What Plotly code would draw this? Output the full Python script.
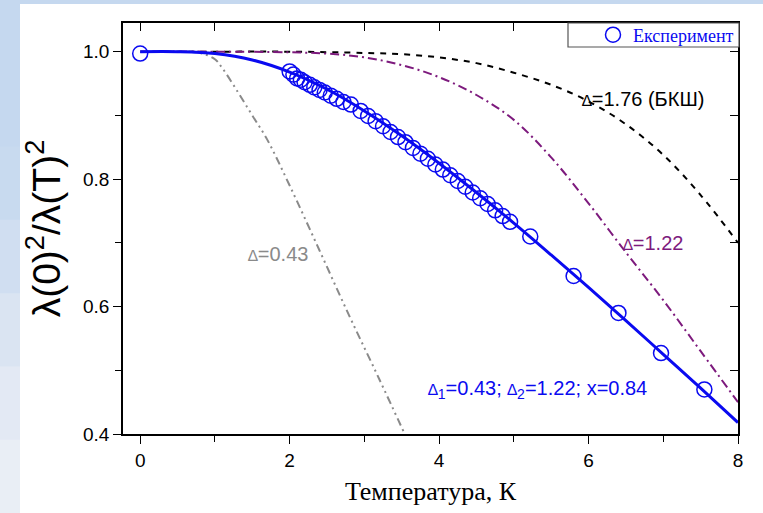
import plotly.graph_objects as go

# Experimental superfluid density
temp_exp = [0.0, 2.0, 2.05, 2.1, 2.15, 2.2, 2.27, 2.33, 2.4, 2.47, 2.55, 2.63, 2.72, 2.82,
            2.95, 3.05, 3.15, 3.25, 3.35, 3.45, 3.55, 3.65, 3.75, 3.85, 3.95, 4.05, 4.15,
            4.25, 4.35, 4.45, 4.55, 4.65, 4.75, 4.85, 4.95, 5.22, 5.8, 6.4, 6.97, 7.55]
rho_exp = [0.997, 0.969, 0.964, 0.958, 0.956, 0.952, 0.948, 0.944, 0.940, 0.936, 0.931,
           0.926, 0.921, 0.917, 0.907, 0.899, 0.891, 0.883, 0.874, 0.866, 0.858, 0.849,
           0.840, 0.832, 0.823, 0.815, 0.806, 0.797, 0.788, 0.779, 0.770, 0.761, 0.751,
           0.742, 0.733, 0.710, 0.648, 0.590, 0.527, 0.470]

# Two-gap fit
temp_fit = [0.0, 0.5, 1.0, 1.5, 2.0, 2.5, 3.0, 3.5, 4.0, 4.5, 5.0, 5.5, 6.0, 6.5, 7.0, 7.5, 8.0]
rho_fit = [1.0, 1.0, 0.997, 0.987, 0.968, 0.941, 0.907, 0.868, 0.825, 0.779, 0.731,
           0.681, 0.630, 0.578, 0.525, 0.472, 0.418]

# Single-gap curves
temp_bcs = [0.0, 1.0, 2.0, 3.0, 3.5, 4.0, 4.5, 5.0, 5.5, 6.0, 6.5, 7.0, 7.5, 8.0]
rho_bcs = [1.0, 1.0, 1.0, 0.998, 0.996, 0.991, 0.982, 0.967, 0.948, 0.922, 0.886,
           0.838, 0.775, 0.700]

temp_122 = [0.0, 1.0, 2.0, 2.5, 3.0, 3.5, 4.0, 4.5, 5.0, 5.5, 6.0, 6.5, 7.0, 7.5, 8.0]
rho_122 = [1.0, 1.0, 0.999, 0.997, 0.991, 0.979, 0.960, 0.932, 0.893, 0.834, 0.762,
           0.685, 0.610, 0.530, 0.450]

temp_043 = [0.0, 0.5, 0.8, 1.0, 1.1, 1.3, 1.5, 1.7, 2.0, 2.4, 2.8, 3.2, 3.54]
rho_043 = [1.0, 1.0, 0.998, 0.988, 0.974, 0.938, 0.900, 0.862, 0.790, 0.688, 0.585,
           0.486, 0.400]

x_range = [-0.23, 8.0]
y_range = [0.4, 1.045]

BLUE = "#0a0af0"
PURPLE = "#7d1a7d"
GRAY = "#8a8a8a"
SANS = "Arial"
SERIF = "Times New Roman"

fig = go.Figure()

fig.add_trace(go.Scatter(x=temp_bcs, y=rho_bcs, mode="lines", line_shape="spline",
                         line=dict(color="black", width=2, dash="6px,6px"),
                         showlegend=False, hoverinfo="skip"))
fig.add_trace(go.Scatter(x=temp_122, y=rho_122, mode="lines", line_shape="spline",
                         line=dict(color=PURPLE, width=2, dash="9px,4px,2px,4px"),
                         showlegend=False, hoverinfo="skip"))
fig.add_trace(go.Scatter(x=temp_043, y=rho_043, mode="lines", line_shape="spline",
                         line=dict(color=GRAY, width=2, dash="8px,4px,2px,4px,2px,4px"),
                         showlegend=False, hoverinfo="skip"))
fig.add_trace(go.Scatter(x=temp_fit, y=rho_fit, mode="lines", line_shape="spline",
                         line=dict(color=BLUE, width=3),
                         showlegend=False, hoverinfo="skip"))
fig.add_trace(go.Scatter(x=temp_exp, y=rho_exp, mode="markers", name="Експеримент",
                         marker=dict(symbol="circle-open", size=15,
                                     line=dict(color=BLUE, width=1.5), color=BLUE)))

# mirror axes (top / right) with inward ticks
fig.add_trace(go.Scatter(x=[None], y=[None], xaxis="x2", yaxis="y2",
                         showlegend=False, hoverinfo="skip"))

delta = "<span style='font-size:16px'>∆</span>"
fig.add_annotation(x=5.88, y=0.925, xref="x", yref="y", showarrow=False,
                   text=delta + "=1.76 (БКШ)", xanchor="left",
                   font=dict(family=SANS, size=20, color="black"))
fig.add_annotation(x=6.43, y=0.700, xref="x", yref="y", showarrow=False,
                   text=delta + "=1.22", xanchor="left",
                   font=dict(family=SANS, size=20, color=PURPLE))
fig.add_annotation(x=1.41, y=0.682, xref="x", yref="y", showarrow=False,
                   text=delta + "=0.43", xanchor="left",
                   font=dict(family=SANS, size=20, color=GRAY))
fig.add_annotation(x=3.82, y=0.470, xref="x", yref="y", showarrow=False,
                   text=delta + "<sub>1</sub>=0.43; " + delta + "<sub>2</sub>=1.22; x=0.84",
                   xanchor="left",
                   font=dict(family=SANS, size=20, color=BLUE))

# slide background: white sheet, light blue band on the left and top
L, R, T, B = 123, 738, 23, 434
W, H = R - L, B - T


def px_x(p):
    return (p - L) / W


def px_y(p):
    return (B - p) / H


shapes = [dict(type="rect", xref="paper", yref="paper", x0=-1, x1=2, y0=-1, y1=2,
               fillcolor="white", line_width=0, layer="below")]
strip = ["#c5d8ef", "#c5d8ef", "#c8daef", "#d0def1", "#dae4f2", "#e3e9f4", "#e9eef5"]
h = 513 / len(strip)
for i, c in enumerate(strip):
    shapes.append(dict(type="rect", xref="paper", yref="paper",
                       x0=px_x(0), x1=px_x(20), y0=px_y((i + 1) * h + 1), y1=px_y(i * h),
                       fillcolor=c, line_width=0, layer="below"))
shapes.append(dict(type="rect", xref="paper", yref="paper",
                   x0=px_x(0), x1=px_x(763), y0=px_y(4), y1=px_y(-2),
                   fillcolor="#c5d8ef", line_width=0, layer="below"))
# legend frame
shapes.append(dict(type="rect", xref="paper", yref="paper",
                   x0=px_x(568), x1=px_x(739), y0=px_y(47), y1=px_y(23),
                   fillcolor="white", line=dict(color="#555555", width=1.2), layer="above"))

axis_common = dict(showgrid=False, zeroline=False, showline=True, linecolor="black",
                   linewidth=1.5, tickcolor="black", tickwidth=1.3)

fig.update_layout(
    width=763, height=513,
    margin=dict(l=L, r=763 - R, t=T, b=513 - B),
    paper_bgcolor="#c5d8ef",
    plot_bgcolor="rgba(0,0,0,0)",
    shapes=shapes,
    showlegend=True,
    legend=dict(x=px_x(593), y=px_y(35), xanchor="left", yanchor="middle",
                bgcolor="rgba(0,0,0,0)", borderwidth=0,
                font=dict(family=SERIF, size=18, color=BLUE),
                itemwidth=30, tracegroupgap=0),
    xaxis=dict(range=x_range, tickvals=[0, 2, 4, 6, 8], ticks="outside", ticklen=8,
               minor=dict(tickvals=[1, 3, 5, 7], ticks="outside", ticklen=6,
                          tickcolor="black", tickwidth=1.3),
               tickfont=dict(family=SANS, size=19, color="black"),
               title=dict(text="Температура, К", standoff=12,
                          font=dict(family=SERIF, size=26, color="black")),
               **axis_common),
    yaxis=dict(range=y_range, tickvals=[0.4, 0.6, 0.8, 1.0], ticktext=["0.4", "0.6", "0.8", "1.0"],
               ticks="outside", ticklen=8,
               minor=dict(tickvals=[0.5, 0.7, 0.9], ticks="outside", ticklen=6,
                          tickcolor="black", tickwidth=1.3),
               tickfont=dict(family=SANS, size=19, color="black"),
               title=dict(text="λ(0)<sup>2</sup>/λ(T)<sup>2</sup>", standoff=10,
                          font=dict(family=SANS, size=39, color="black")),
               **axis_common),
    xaxis2=dict(range=x_range, overlaying="x", side="top", tickvals=list(range(0, 9)),
                ticks="inside", ticklen=8, showticklabels=False, **axis_common),
    yaxis2=dict(range=y_range, overlaying="y", side="right",
                tickvals=[0.4, 0.5, 0.6, 0.7, 0.8, 0.9, 1.0],
                ticks="inside", ticklen=8, showticklabels=False, **axis_common),
)

fig.write_html("out.html")
